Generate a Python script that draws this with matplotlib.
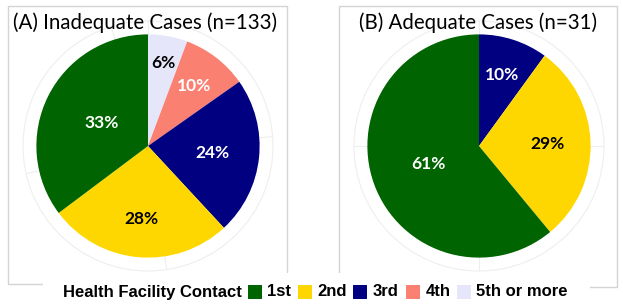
import matplotlib
matplotlib.use("Agg")
import matplotlib.pyplot as plt
from matplotlib.patches import Rectangle
import numpy as np

# ---- data (clockwise from 12 o'clock: 5th ... 1st) ----
levels = ["1st", "2nd", "3rd", "4th", "5th or more"]
colors = {"1st": "#006400", "2nd": "#FFD700", "3rd": "#000080",
          "4th": "#FA8072", "5th or more": "#E6E6FA"}
text_col = {"1st": "white", "2nd": "black", "3rd": "white",
            "4th": "white", "5th or more": "black"}

a_levels = ["5th or more", "4th", "3rd", "2nd", "1st"]
a_values = [6, 10, 24, 28, 37]
a_labels = ["6%", "10%", "24%", "28%", "33%"]

b_levels = ["3rd", "2nd", "1st"]
b_values = [10, 29, 61]
b_labels = ["10%", "29%", "61%"]

titles = ["(A) Inadequate Cases (n=133)", "(B) Adequate Cases (n=31)"]

# label distance from centre (fraction of radius)
a_lab_r = [0.76, 0.68, 0.58, 0.66, 0.46]
b_lab_r = [0.67, 0.61, 0.48]

W, H = 623, 307
fig = plt.figure(figsize=(W / 100, H / 100), dpi=100)


def px(x, y):
    return x / W, 1 - y / H


# panel borders
for x0, x1, y0, y1 in [(7.5, 287, 5.5, 284), (338.5, 617, 5.5, 287)]:
    fig.patches.append(Rectangle(px(x0, y1), (x1 - x0) / W, (y1 - y0) / H,
                                 transform=fig.transFigure, fill=False,
                                 edgecolor="#d4d4d4", linewidth=1.0, zorder=0))
# white legend background covering the border bottoms
fig.patches.append(Rectangle(px(43, 307), (590 - 43) / W, (307 - 273) / H,
                             transform=fig.transFigure, facecolor="white",
                             edgecolor="none", zorder=1))

R = 125  # px radius of polar axes (pie radius = 112 px)


def pie(cx, cy, lv, vals, labs, lab_r, total_breaks):
    x, y = px(cx, cy)
    ax = fig.add_axes([x - R / W, y - R / H, 2 * R / W, 2 * R / H],
                      projection="polar")
    ax.set_theta_zero_location("N")
    ax.set_theta_direction(-1)
    vals = np.array(vals, dtype=float)
    tot = vals.sum()
    widths = vals / tot * 2 * np.pi
    starts = np.concatenate([[0], np.cumsum(widths)[:-1]])
    mids = starts + widths / 2
    ax.bar(mids, 1.0, width=widths, bottom=0,
           color=[colors[l] for l in lv], edgecolor="none", zorder=3)
    for m, t, l, r in zip(mids, labs, lv, lab_r):
        ax.text(m, r, t, ha="center", va="center", fontsize=12.5,
                fontweight="bold", family="Lato", color=text_col[l], zorder=4)
    ax.set_ylim(0, 1.12)
    ax.set_xticks([b / tot * 2 * np.pi for b in total_breaks])
    ax.set_xticklabels([])
    ax.set_yticks([])
    ax.grid(color="#eeeeee", linewidth=0.8)
    ax.spines["polar"].set_color("#eeeeee")
    ax.spines["polar"].set_linewidth(0.8)
    ax.set_facecolor("none")
    return ax


pie(148, 146, a_levels, a_values, a_labels, a_lab_r, [0, 25, 50, 75, 100])
pie(479, 146, b_levels, b_values, b_labels, b_lab_r, [0, 25, 50, 75])

fig.text(*px(145, 23), titles[0], ha="center", va="center",
         fontsize=14.8, family="Lato", color="black")
fig.text(*px(478, 23), titles[1], ha="center", va="center",
         fontsize=14.8, family="Lato", color="black")

# legend (title on the left, keys in a row)
leg_font = dict(fontsize=12, fontweight="bold", family="Liberation Sans",
                va="center", ha="left", zorder=5)
fig.text(*px(63, 292), "Health Facility Contact", **leg_font)
key_x = [248, 298, 353, 406, 457]
for kx, lev in zip(key_x, levels):
    fig.patches.append(Rectangle(px(kx, 298.5), 14 / W, 14 / H,
                                 transform=fig.transFigure,
                                 facecolor=colors[lev], edgecolor="none", zorder=5))
    fig.text(*px(kx + 19.5, 292), lev, **leg_font)

fig.savefig("out.png", dpi=100, facecolor="white")
